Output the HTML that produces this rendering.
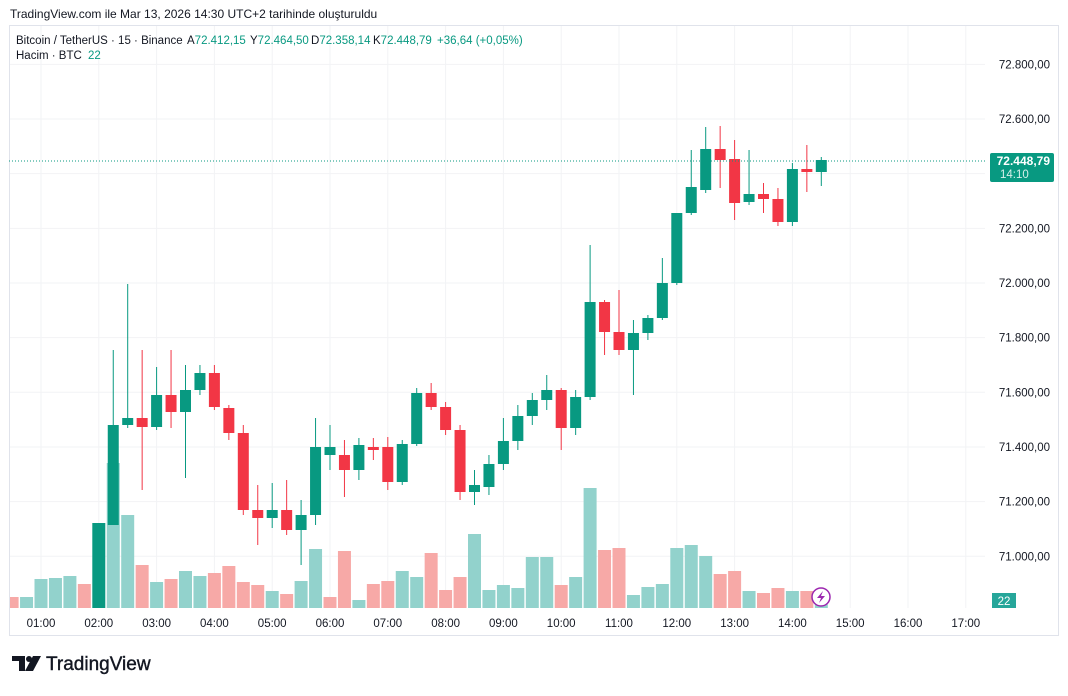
<!DOCTYPE html>
<html><head><meta charset="utf-8"><style>
body{margin:0;background:#fff;width:1068px;height:691px;overflow:hidden;font-family:"Liberation Sans",sans-serif}
</style></head><body>
<svg id="s" width="1068" height="691" xmlns="http://www.w3.org/2000/svg" font-family="Liberation Sans, sans-serif">
<text x="10" y="18" font-size="12" fill="#131722">TradingView.com ile Mar 13, 2026 14:30 UTC+2 tarihinde oluşturuldu</text>
<rect x="9.5" y="25.5" width="1049" height="610" fill="none" stroke="#e0e3eb"/>
<g id="grid"></g>
<g id="vol"></g>
<g id="cand"></g>
<line x1="9" y1="161" x2="985" y2="161" stroke="#089981" stroke-dasharray="1,2"/>
<g font-size="11.5">
<text x="16" y="44" fill="#131722">Bitcoin / TetherUS · 15 · Binance</text>
<text x="187" y="44" fill="#131722">A<tspan fill="#089981">72.412,15</tspan></text>
<text x="250" y="44" fill="#131722">Y<tspan fill="#089981">72.464,50</tspan></text>
<text x="311" y="44" fill="#131722">D<tspan fill="#089981">72.358,14</tspan></text>
<text x="373" y="44" fill="#131722">K<tspan fill="#089981">72.448,79</tspan></text>
<text x="437" y="44" fill="#089981">+36,64 (+0,05%)</text>
<text x="16" y="59" fill="#131722">Hacim · BTC <tspan fill="#089981" dx="3">22</tspan></text>
</g>
<g id="lab" font-size="11.5" fill="#131722"></g>
<rect x="990" y="153" width="64" height="29" rx="2" fill="#089981"/>
<text x="1050" y="165" font-size="12" font-weight="bold" fill="#fff" text-anchor="end">72.448,79</text>
<text x="1000" y="178" font-size="11.5" fill="#d6f0ea">14:10</text>
<rect x="992" y="593" width="24" height="15" fill="#26a69a"/>
<text x="1004" y="605" font-size="11.5" fill="#fff" text-anchor="middle">22</text>
<circle cx="821" cy="597" r="9" fill="#fff" stroke="#9c27b0" stroke-width="1.5"/>
<path d="M823 591 L817 598 L821 598 L819 603 L825 596 L821 596 Z" fill="#9c27b0"/>
<g transform="translate(12,656)" fill="#131722">
<path d="M0 0 H13 V15 H7 V5 H0 Z"/><circle cx="17" cy="3" r="3"/><path d="M21 0 H29 L21 15 H13 Z"/>
</g>
<text x="46" y="670" font-size="19" fill="#131722" stroke="#131722" stroke-width="0.4">TradingView</text>
</svg>
<script>
const NS="http://www.w3.org/2000/svg";
function el(p,t,a,txt){const e=document.createElementNS(NS,t);for(const k in a)e.setAttribute(k,a[k]);if(txt)e.textContent=txt;document.getElementById(p).appendChild(e);}
const py=p=>119+(72600-p)*0.2733;
[72800,72600,72400,72200,72000,71800,71600,71400,71200,71000].forEach(p=>{const y=py(p);
 el('grid','line',{x1:10,x2:985,y1:y,y2:y,stroke:'#f2f3f5'});
 if(p!=72400)el('lab','text',{x:1050,y:y+4,'text-anchor':'end'},p.toLocaleString('de-DE')+',00');});
for(let h=1;h<=17;h++){const x=41+(h-1)*57.8;
 el('grid','line',{x1:x,x2:x,y1:26,y2:608,stroke:'#f2f3f5'});
 el('lab','text',{x:x,y:627,'text-anchor':'middle'},(h<10?'0':'')+h+':00');}
const xs=i=>41+(i-4)*14.45;
const G='#089981',R='#f23645',GV='#92d2cc',RV='#f7a9a7';
const vol=[[2,'r',597],[3,'g',597],[4,'g',579],[5,'g',578],[6,'g',576],[7,'r',584],[8,'D',523],[9,'g',463],[10,'g',515],[11,'r',565],[12,'g',582],[13,'r',579],[14,'g',571],[15,'g',576],[16,'r',573],[17,'r',566],[18,'r',582],[19,'r',585],[20,'g',591],[21,'r',594],[22,'g',581],[23,'g',549],[24,'r',597],[25,'r',551],[26,'g',600],[27,'r',584],[28,'r',581],[29,'g',571],[30,'g',577],[31,'r',553],[32,'r',590],[33,'r',577],[34,'g',534],[35,'g',590],[36,'g',585],[37,'g',588],[38,'g',557],[39,'g',557],[40,'r',585],[41,'g',577],[42,'g',488],[43,'r',550],[44,'r',548],[45,'g',595],[46,'g',587],[47,'g',584],[48,'g',548],[49,'g',545],[50,'g',556],[51,'r',574],[52,'r',571],[53,'g',591],[54,'r',593],[55,'r',588],[56,'g',591],[57,'r',591],[58,'g',604]];
vol.forEach(([i,c,t])=>{let x=xs(i)-6.5,w=13;if(x<10){w-=10-x;x=10;}
 el('vol','rect',{x:x,y:t,width:w,height:608-t,fill:c=='g'?GV:c=='r'?RV:G});});
const C=[[9,'g',425,525,350,525],[10,'g',418,425,284,428],[11,'r',418,427,350,490],[12,'g',395,427,367,430],[13,'r',395,412,350,428],[14,'g',390,412,365,478],[15,'g',373,390,365,395],[16,'r',373,407,365,410],[17,'r',408,433,405,440],[18,'r',433,510,425,515],[19,'r',510,518,485,545],[20,'g',510,518,483,528],[21,'r',510,530,480,535],[22,'g',515,530,500,565],[23,'g',447,515,418,525],[24,'g',447,455,425,470],[25,'r',455,470,440,497],[26,'g',445,470,438,480],[27,'r',447,450,438,460],[28,'r',447,482,437,490],[29,'g',444,482,440,485],[30,'g',393,444,388,446],[31,'r',393,407,383,410],[32,'r',407,430,402,435],[33,'r',430,492,425,500],[34,'g',485,492,470,505],[35,'g',464,487,455,495],[36,'g',441,464,418,470],[37,'g',416,441,405,450],[38,'g',400,416,393,425],[39,'g',390,400,375,410],[40,'r',390,428,388,450],[41,'g',397,428,390,435],[42,'g',302,397,245,400],[43,'r',302,332,300,355],[44,'r',332,350,290,355],[45,'g',333,350,320,395],[46,'g',318,333,315,340],[47,'g',283,318,258,320],[48,'g',213,283,213,285],[49,'g',187,213,150,215],[50,'g',149,190,127,193],[51,'r',149,160,126,188],[52,'r',159,203,140,220],[53,'g',194,202,150,205],[54,'r',194,199,183,213],[55,'r',199,222,188,226],[56,'g',169,222,163,226],[57,'r',169,172,145,192],[58,'g',160,172,157,186]];
C.forEach(([i,c,t,b,h,l])=>{const x=xs(i),col=c=='g'?G:R;
 el('cand','line',{x1:x,x2:x,y1:h,y2:l,stroke:col});
 el('cand','rect',{x:x-5.5,y:t,width:11,height:Math.max(2,b-t),fill:col});});
el('cand','rect',{x:xs(8)-5.5,y:523,width:11,height:85,fill:G});
</script>
</body></html>
